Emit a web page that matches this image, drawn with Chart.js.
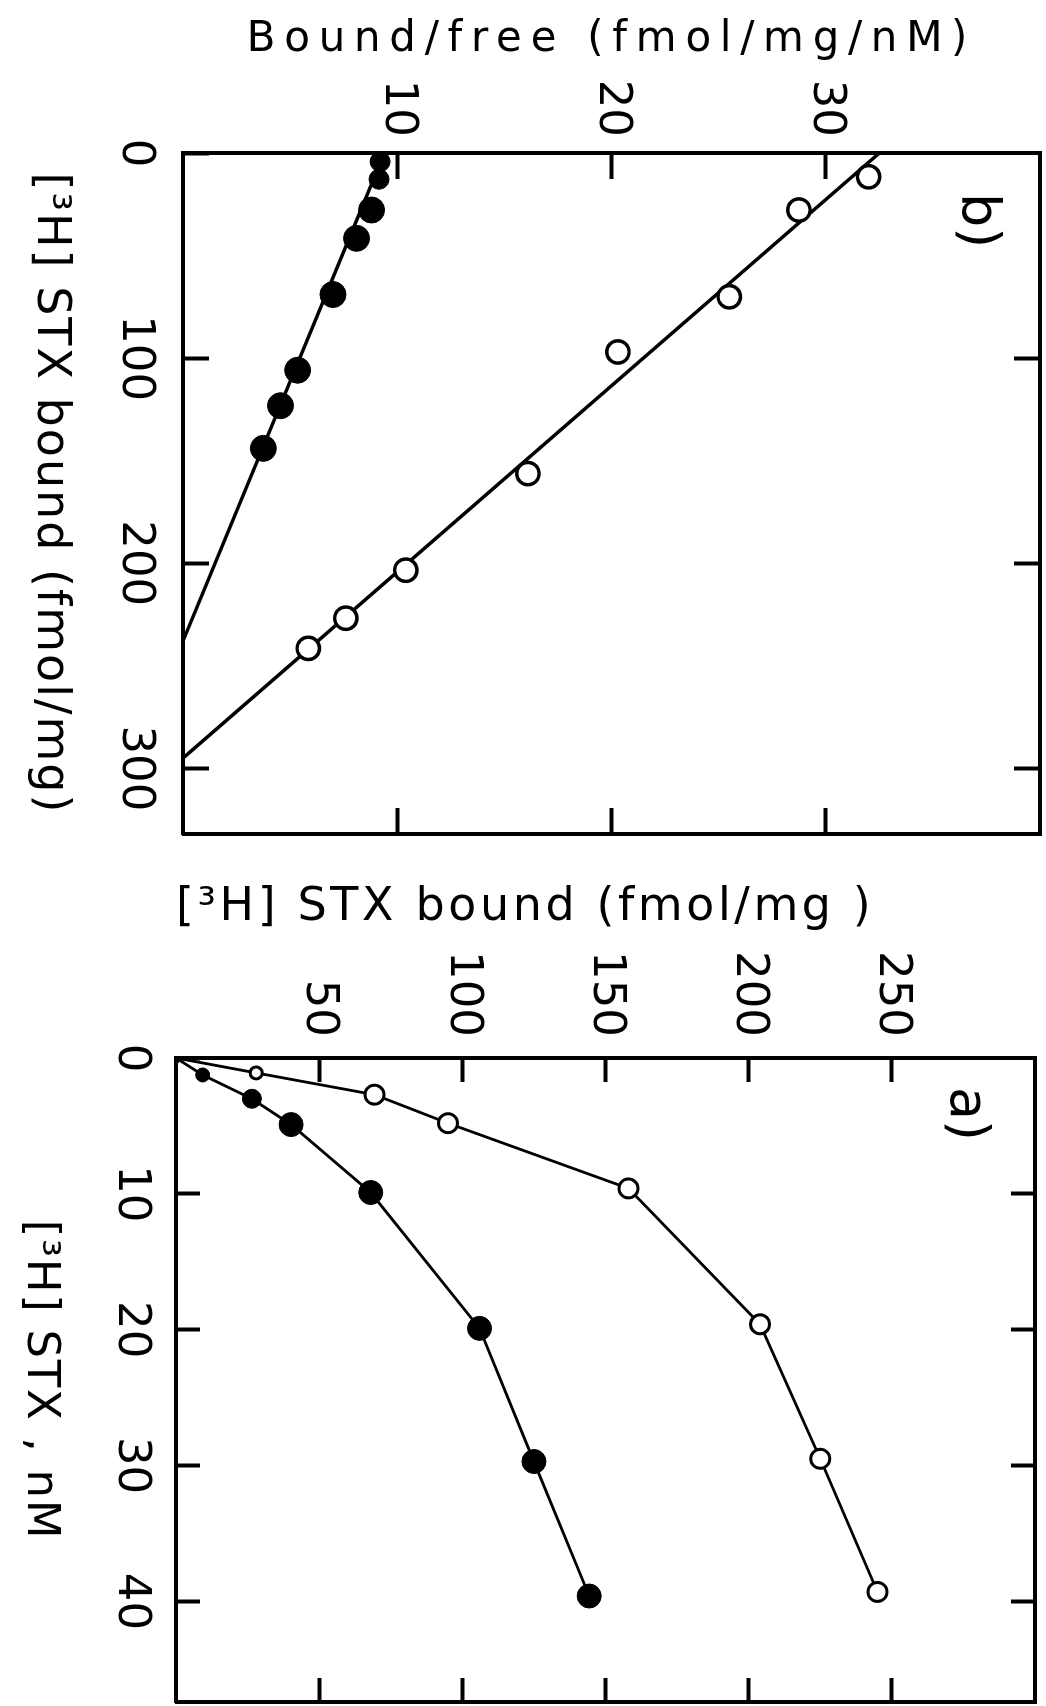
<!DOCTYPE html>
<html>
<head>
<meta charset="utf-8">
<title>[3H]STX binding</title>
<script src="https://cdn.jsdelivr.net/npm/chart.js@4.4.1/dist/chart.umd.min.js"></script>
<style>
  html, body { margin: 0; padding: 0; background: #fff; overflow: hidden; }
  /* the figure is laid out landscape and turned a quarter clockwise, like the scan */
  #fig { position: absolute; left: 0; top: 0; width: 1706px; height: 1046px;
         transform-origin: 0 0; transform: translateX(1046px) rotate(90deg); }
  #fig canvas { position: absolute; top: 0; }
  #chartB { left: 0; }
  #chartA { left: 850px; }
</style>
</head>
<body>
<div id="fig">
  <canvas id="chartB" width="850" height="1046"></canvas>
  <canvas id="chartA" width="856" height="1046"></canvas>
</div>
<script>
// b) Scatchard plot: bound (fmol/mg) vs bound/free (fmol/mg/nM)
var bBoundOpen   = [11.6, 27.8, 70.1, 97.0, 156.3, 203.4, 226.8, 241.5];
var bRatioOpen   = [32.0, 28.75, 25.5, 20.3, 16.1, 10.4, 7.6, 5.85];
var bBoundFilled = [4.2, 12.8, 27.8, 41.6, 69.0, 105.9, 123.2, 144.0];
var bRatioFilled = [9.2, 9.15, 8.8, 8.1, 7.0, 5.35, 4.55, 3.75];
// fitted lines, given by their two intercepts
var fitOpenX   = [0, 295];
var fitOpenY   = [32.5, 0];
var fitFilledX = [0, 238];
var fitFilledY = [9.4, 0];
var bBoundTicks = [0, 100, 200, 300];
var bRatioTicks = [10, 20, 30];

// a) saturation: [3H]STX (nM) vs bound (fmol/mg)
var aConcOpen    = [0, 1.1, 2.7, 4.8, 9.6, 19.6, 29.5, 39.3];
var aBoundOpen   = [0, 28, 69.3, 95, 158, 204, 225, 245];
var aConcFilled  = [0, 1.25, 3.0, 4.9, 9.9, 19.9, 29.7, 39.6];
var aBoundFilled = [0, 9.3, 26.5, 40.2, 68, 106, 125, 144.3];
var aConcTicks  = [0, 10, 20, 30, 40];
var aBoundTicks = [50, 100, 150, 200, 250];

var black = '#000';
Chart.defaults.font.family = "'DejaVu Sans', sans-serif";
Chart.defaults.color = black;

function pts(xs, ys) {
  return xs.map(function (x, i) { return { x: x, y: ys[i] }; });
}

// one side of the box frame, with ticks pointing inwards
function side(position, min, max, tickValues, tickLen, size, extra) {
  var horizontal = position === 'top' || position === 'bottom';
  return Object.assign({
    type: 'linear',
    position: position,
    min: min,
    max: max,
    afterBuildTicks: function (s) { s.ticks = tickValues.map(function (v) { return { value: v }; }); },
    afterFit: function (s) {
      if (horizontal) s.height = size; else s.width = size;
      s.paddingTop = s.paddingBottom = s.paddingLeft = s.paddingRight = 0;
    },
    grid: { drawOnChartArea: false, tickLength: -tickLen, tickWidth: 4, tickColor: black },
    border: { display: true, width: 4, color: black },
    ticks: { display: false }
  }, extra || {});
}

function tickFont(pad) {
  return { display: true, padding: pad, font: { size: 45 }, color: black,
           autoSkip: false, maxRotation: 0, minRotation: 0 };
}

// axis titles of the scan are widely letter-spaced
function spacedTitles(spacing) {
  return {
    id: 'spacedTitles',
    beforeDraw: function (chart) {
      Object.values(chart.scales).forEach(function (scale) {
        if (scale._spaced) return;
        var orig = scale.drawTitle;
        scale.drawTitle = function () {
          this.ctx.save();
          this.ctx.letterSpacing = (spacing[this.id] || 0) + 'px';
          orig.call(this);
          this.ctx.restore();
        };
        scale._spaced = true;
      });
    }
  };
}

function panelLabel(text, dx, dy) {
  return {
    id: 'panelLabel',
    afterDraw: function (chart) {
      var ctx = chart.ctx, a = chart.chartArea;
      ctx.save();
      ctx.font = "54px 'DejaVu Sans'";
      ctx.fillStyle = black;
      ctx.textBaseline = 'alphabetic';
      ctx.fillText(text, a.left + dx, a.top + dy);
      ctx.restore();
    }
  };
}

var common = {
  responsive: false,
  animation: false,
  devicePixelRatio: 1,
  layout: { padding: 0, autoPadding: false },
  plugins: { legend: { display: false }, tooltip: { enabled: false } }
};

// panel b
new Chart(document.getElementById('chartB').getContext('2d'), {
  type: 'scatter',
  data: {
    datasets: [
      { data: pts(fitOpenX, fitOpenY), showLine: true, borderColor: black, borderWidth: 3.5, pointRadius: 0, order: 2 },
      { data: pts(fitFilledX, fitFilledY), showLine: true, borderColor: black, borderWidth: 3.5, pointRadius: 0, order: 2 },
      { data: pts(bBoundOpen, bRatioOpen), showLine: false, pointRadius: 11.2, pointBorderWidth: 3.4,
        pointBorderColor: black, pointBackgroundColor: '#fff', order: 1 },
      { data: pts(bBoundFilled, bRatioFilled), showLine: false,
        pointRadius: function (c) { return c.dataIndex < 2 ? 10 : 13; }, pointBorderWidth: 1,
        pointBorderColor: black, pointBackgroundColor: black, order: 1 }
    ]
  },
  options: Object.assign({}, common, {
    scales: {
      x: side('bottom', 0, 332, bBoundTicks, 26, 183, {
        ticks: tickFont(47),
        title: { display: true, text: '[³H] STX bound (fmol/mg)', color: black,
                 font: { size: 46 }, padding: { bottom: 22 } }
      }),
      x2: side('top', 0, 332, [100, 200, 300], 26, 6),
      y: side('left', 0, 40, bRatioTicks, 26, 153, {
        ticks: tickFont(42),
        title: { display: true, text: 'Bound/free (fmol/mg/nM)', color: black,
                 font: { size: 42 }, padding: { top: 15 } }
      }),
      y2: side('right', 0, 40, bRatioTicks, 26, 16)
    }
  }),
  plugins: [spacedTitles({ x: 2, y: 8.7 }), panelLabel('b)', 40, 78)]
});

// panel a
new Chart(document.getElementById('chartA').getContext('2d'), {
  type: 'scatter',
  data: {
    datasets: [
      { data: pts(aConcOpen, aBoundOpen), showLine: true, borderColor: black, borderWidth: 2.8,
        pointRadius: function (c) { return c.dataIndex === 0 ? 0 : (c.dataIndex === 1 ? 6 : 9.5); },
        pointBorderWidth: 3, pointBorderColor: black, pointBackgroundColor: '#fff' },
      { data: pts(aConcFilled, aBoundFilled), showLine: true, borderColor: black, borderWidth: 2.8,
        pointRadius: function (c) { return [5, 7, 9.5][c.dataIndex] || 12; },
        pointBorderWidth: 1, pointBorderColor: black, pointBackgroundColor: black }
    ]
  },
  options: Object.assign({}, common, {
    scales: {
      x: side('bottom', 0, 47.4, aConcTicks, 24, 176, {
        ticks: tickFont(42),
        title: { display: true, text: '[³H] STX , nM', color: black,
                 font: { size: 45 }, padding: { bottom: 13 } }
      }),
      x2: side('top', 0, 47.4, [10, 20, 30, 40], 24, 11),
      y: side('left', 0, 300, aBoundTicks, 24, 208, {
        ticks: tickFont(45),
        title: { display: true, text: '[³H] STX bound (fmol/mg )', color: black, align: 'start',
                 font: { size: 46 }, padding: { top: 30 } }
      }),
      y2: side('right', 0, 300, aBoundTicks, 24, 4)
    }
  }),
  plugins: [spacedTitles({ x: 1.7, y: 3.6 }), panelLabel('a)', 29, 84)]
});
</script>
</body>
</html>
